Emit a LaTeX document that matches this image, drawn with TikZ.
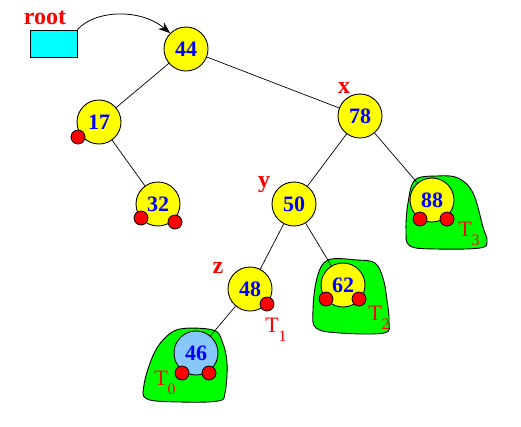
\documentclass[tikz,border=0pt]{standalone}
\usepackage{fontspec}
\setmainfont{Liberation Serif}
\usetikzlibrary{arrows.meta}
\definecolor{nodeyellow}{RGB}{255,255,0}
\definecolor{boxcyan}{RGB}{0,255,255}
\definecolor{blobgreen}{RGB}{0,255,0}
\definecolor{dotred}{RGB}{255,0,0}
\definecolor{keyblue}{RGB}{0,0,255}
\definecolor{lightkey}{RGB}{135,200,250}
\newcommand{\Tsub}[1]{T\raisebox{-0.4em}{\fontsize{16}{16}\selectfont #1}}
\begin{document}
\begin{tikzpicture}[x=1pt,y=-1pt,
  key/.style={circle,draw=black,line width=0.9pt,fill=nodeyellow,minimum size=44pt,inner sep=0pt,
    font=\bfseries\fontsize{22}{22}\selectfont,text=keyblue},
  dot/.style={circle,draw=black,line width=0.8pt,fill=dotred,minimum size=14pt,inner sep=0pt},
  lbl/.style={text=dotred,font=\bfseries\fontsize{24}{24}\selectfont,inner sep=0pt},
  tlbl/.style={text=dotred,font=\fontsize{22}{22}\selectfont,inner sep=0pt},
  blob/.style={draw=black,line width=0.9pt,fill=blobgreen},
  edge/.style={draw=black,line width=0.7pt}]
\useasboundingbox (0,0) rectangle (521,426);

% green blobs (subtrees)
\draw[blob] plot[smooth cycle,tension=0.6] coordinates {(415,180) (437,176) (458,178) (473,193) (483,227) (487,241) (480,248) (437,249) (410,246) (406,230) (408,203)};
\draw[blob] plot[smooth cycle,tension=0.6] coordinates {(328,260) (357,260) (375,263) (383,278) (387,300) (389,322) (384,333) (340,333) (316,328) (313,310) (317,278)};
\draw[blob] plot[smooth cycle,tension=0.6] coordinates {(180,329) (213,330) (222,341) (227,363) (225,393) (218,401) (180,402) (147,399) (144,385) (152,358) (163,340)};

% root pointer
\node[draw=black,line width=0.8pt,fill=boxcyan,minimum width=47pt,minimum height=27pt,inner sep=0pt] (root) at (53.5,43.5) {};
\node[lbl] (rootlbl) at (45,18) {root};

% keys
\node[key] (n44) at (186,49) {44};
\node[key] (n17) at (99,122) {17};
\node[key] (n32) at (158,204) {32};
\node[key] (n78) at (360,116) {78};
\node[key] (n50) at (294,204) {50};
\node[key] (n88) at (432,200) {88};
\node[key] (n48) at (250,289) {48};
\node[key] (n62) at (343,285) {62};
\node[key,fill=lightkey] (n46) at (196,353) {46};

% edges
\draw[edge] (n44) -- (n17);
\draw[edge] (n44) -- (n78);
\draw[edge] (n17) -- (n32);
\draw[edge] (n78) -- (n50);
\draw[edge] (n78) -- (n88);
\draw[edge] (n50) -- (n48);
\draw[edge] (n50) -- (n62);
\draw[edge] (n48) -- (n46);

% arrow root -> 44
\draw[line width=0.8pt,-{Stealth[length=12pt,width=9pt]}] (root.north east) .. controls (95,10) and (140,8) .. (n44.north west);

% null pointers (red dots)
\node[dot] (d17) at (78,137) {};
\node[dot] (d32a) at (141,218) {};
\node[dot] (d32b) at (175,222) {};
\node[dot] (d88a) at (420,219) {};
\node[dot] (d88b) at (447,219) {};
\node[dot] (d62a) at (326,299) {};
\node[dot] (d62b) at (359,299) {};
\node[dot] (d48) at (267,304) {};
\node[dot] (d46a) at (182,373) {};
\node[dot] (d46b) at (209,373) {};

% labels
\node[lbl] (lx) at (344,88) {x};
\node[lbl] (ly) at (264,185) {y};
\node[lbl] (lz) at (218,268) {z};
\node[tlbl] (t0) at (165,383) {\Tsub{0}};
\node[tlbl] (t1) at (276,330) {\Tsub{1}};
\node[tlbl] (t2) at (379,318) {\Tsub{2}};
\node[tlbl] (t3) at (469,234) {\Tsub{3}};
\end{tikzpicture}
\end{document}
